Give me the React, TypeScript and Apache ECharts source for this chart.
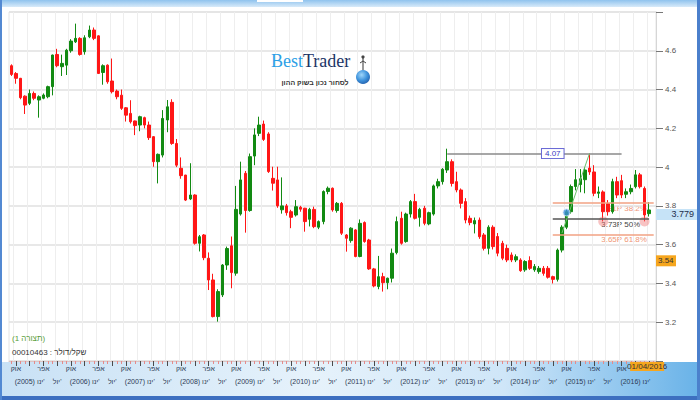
import React, { useEffect, useRef } from "react";
import * as echarts from "echarts";

// ---- time axis: monthly candles, Sep 2004 .. Apr 2016 (+1 empty slot) ----
const START_YEAR = 2004;
const START_MONTH = 9; // September
const SLOT_COUNT = 141;

// ---- monthly USD/ILS candles ----
const opens = [
  4.523, 4.483, 4.458, 4.366, 4.329, 4.38, 4.346, 4.355, 4.363, 4.415,
  4.581, 4.518, 4.526, 4.6, 4.646, 4.664, 4.595, 4.672, 4.707, 4.677,
  4.488, 4.526, 4.444, 4.392, 4.371, 4.306, 4.277, 4.238, 4.217, 4.255,
  4.217, 4.157, 4.028, 4.062, 4.243, 4.334, 4.122, 3.994, 3.959, 3.836,
  3.856, 3.607, 3.65, 3.53, 3.418, 3.229, 3.341, 3.495, 3.594, 3.453,
  3.758, 3.968, 3.776, 4.057, 4.174, 4.222, 4.171, 3.942, 3.934, 3.78,
  3.8, 3.77, 3.753, 3.793, 3.788, 3.731, 3.782, 3.69, 3.719, 3.874,
  3.891, 3.776, 3.813, 3.65, 3.621, 3.676, 3.539, 3.714, 3.624, 3.475,
  3.384, 3.435, 3.404, 3.427, 3.559, 3.736, 3.616, 3.758, 3.822, 3.741,
  3.788, 3.707, 3.758, 3.903, 3.925, 3.985, 4.028, 3.925, 3.882, 3.822,
  3.736, 3.707, 3.727, 3.65, 3.581, 3.69, 3.642, 3.607, 3.581, 3.547,
  3.521, 3.521, 3.47, 3.518, 3.47, 3.461, 3.478, 3.478, 3.435, 3.421,
  3.572, 3.69, 3.77, 3.9, 3.91, 3.935, 3.995, 3.975, 3.865, 3.872,
  3.812, 3.77, 3.925, 3.93, 3.86, 3.873, 3.899, 3.96, 3.89, 3.76,
];
const closes = [
  4.478, 4.458, 4.358, 4.32, 4.38, 4.355, 4.363, 4.372, 4.415, 4.578,
  4.523, 4.535, 4.603, 4.65, 4.664, 4.581, 4.667, 4.707, 4.664, 4.483,
  4.523, 4.44, 4.389, 4.363, 4.303, 4.268, 4.234, 4.214, 4.26, 4.217,
  4.152, 4.028, 4.066, 4.251, 4.311, 4.122, 4.01, 3.956, 3.83, 3.856,
  3.607, 3.641, 3.533, 3.418, 3.229, 3.358, 3.495, 3.58, 3.456, 3.782,
  3.934, 3.776, 4.054, 4.166, 4.217, 4.143, 3.977, 3.917, 3.8, 3.8,
  3.765, 3.741, 3.796, 3.783, 3.719, 3.782, 3.693, 3.719, 3.874, 3.891,
  3.779, 3.813, 3.659, 3.633, 3.685, 3.539, 3.71, 3.616, 3.475, 3.387,
  3.435, 3.404, 3.427, 3.556, 3.719, 3.607, 3.758, 3.822, 3.736, 3.782,
  3.71, 3.765, 3.903, 3.925, 3.989, 4.028, 3.916, 3.882, 3.813, 3.727,
  3.714, 3.724, 3.641, 3.581, 3.69, 3.59, 3.556, 3.53, 3.521, 3.521,
  3.538, 3.466, 3.513, 3.478, 3.487, 3.478, 3.452, 3.432, 3.421, 3.572,
  3.69, 3.77, 3.9, 3.935, 3.94, 3.985, 3.975, 3.865, 3.872, 3.77,
  3.77, 3.925, 3.856, 3.856, 3.873, 3.89, 3.96, 3.899, 3.753, 3.779,
];
const lows = [
  4.47, 4.43, 4.35, 4.274, 4.32, 4.345, 4.255, 4.35, 4.355, 4.37,
  4.515, 4.47, 4.475, 4.59, 4.64, 4.575, 4.58, 4.665, 4.655, 4.48,
  4.425, 4.43, 4.38, 4.35, 4.295, 4.235, 4.225, 4.165, 4.185, 4.2,
  4.14, 4.002, 3.916, 4.05, 4.18, 4.115, 4.0, 3.94, 3.825, 3.83,
  3.6, 3.565, 3.52, 3.366, 3.225, 3.203, 3.33, 3.47, 3.375, 3.44,
  3.75, 3.662, 3.77, 4.01, 4.16, 4.135, 3.97, 3.879, 3.79, 3.76,
  3.75, 3.685, 3.745, 3.77, 3.667, 3.694, 3.685, 3.68, 3.705, 3.86,
  3.77, 3.765, 3.65, 3.564, 3.61, 3.535, 3.535, 3.61, 3.47, 3.38,
  3.37, 3.358, 3.37, 3.405, 3.55, 3.6, 3.61, 3.74, 3.73, 3.693,
  3.7, 3.7, 3.75, 3.89, 3.91, 3.97, 3.9, 3.87, 3.787, 3.71,
  3.7, 3.658, 3.63, 3.57, 3.55, 3.575, 3.54, 3.52, 3.51, 3.51,
  3.51, 3.46, 3.46, 3.47, 3.46, 3.45, 3.44, 3.425, 3.4, 3.41,
  3.56, 3.68, 3.76, 3.88, 3.87, 3.865, 3.96, 3.85, 3.84, 3.72,
  3.75, 3.76, 3.84, 3.84, 3.84, 3.86, 3.89, 3.89, 3.72, 3.745,
];
const highs = [
  4.53, 4.49, 4.46, 4.37, 4.4, 4.39, 4.37, 4.38, 4.42, 4.58,
  4.61, 4.58, 4.61, 4.66, 4.74, 4.67, 4.68, 4.73, 4.72, 4.68,
  4.53, 4.53, 4.56, 4.4, 4.4, 4.31, 4.345, 4.24, 4.265, 4.26,
  4.235, 4.16, 4.07, 4.294, 4.346, 4.35, 4.145, 4.05, 3.96, 4.02,
  3.86, 3.65, 3.655, 3.56, 3.45, 3.37, 3.5, 3.59, 3.642, 3.903,
  4.028, 3.98, 4.07, 4.2, 4.26, 4.24, 4.18, 4.002, 4.002, 3.947,
  3.81, 3.78, 3.83, 3.8, 3.79, 3.79, 3.796, 3.725, 3.88, 3.9,
  3.895, 3.82, 3.82, 3.655, 3.69, 3.68, 3.73, 3.72, 3.63, 3.48,
  3.542, 3.455, 3.43, 3.58, 3.745, 3.77, 3.765, 3.83, 3.862, 3.79,
  3.8, 3.77, 3.91, 3.94, 3.995, 4.095, 4.04, 3.976, 3.89, 3.84,
  3.75, 3.74, 3.74, 3.66, 3.7, 3.7, 3.66, 3.62, 3.6, 3.56,
  3.55, 3.53, 3.52, 3.54, 3.5, 3.49, 3.49, 3.49, 3.44, 3.58,
  3.7, 3.78, 3.91, 3.99, 3.99, 4.0, 4.07, 4.01, 3.9, 3.88,
  3.83, 3.94, 3.95, 3.96, 3.89, 3.91, 3.985, 3.97, 3.9, 3.82,
];

// ---- drawing overlays (indices are candle slots) ----
const resistanceLevel = 4.07;
const resistanceFrom = 95;
const resistanceTo = 133;
const resistanceLabelAt = 118;
const fibStart = 118;
const fibLevels = [
  { value: 3.814, text: "3.81P 38.2%", color: "#f2a283", end: 140 },
  { value: 3.732, text: "3.73P 50%", color: "#555555", end: 139 },
  { value: 3.653, text: "3.65P 61.8%", color: "#f2a283", end: 140 },
];
const fibLabelAt = 129;
const trendFrom = [120, 3.66];
const trendTo = [126, 4.07];
const blueDots = [[121, 3.766]];
const pinkDots = [[129, 3.72], [138, 3.72]];
const lastPrice = 3.779;
const cursorPrice = 3.54;
const cursorDate = "01/04/2016";

const yMin = 3.0;
const yMax = 4.8;
const yStep = 0.2;

const categories: string[] = [];
for (let i = 0; i < SLOT_COUNT; i++) {
  const t = START_MONTH - 1 + i;
  const y = START_YEAR + Math.floor(t / 12);
  const m = (t % 12) + 1;
  categories.push(`${y}-${m < 10 ? "0" + m : m}`);
}
const monthOf = (i: number) => (START_MONTH - 1 + i) % 12; // 0 = Jan
const parseCat = (v: string) => {
  const [y, m] = v.split("-");
  return { y: Number(y), m: Number(m) - 1 };
};
const LAST = closes.length - 1;

const FONT = "Liberation Sans";

export default function App() {
  const ref = useRef<HTMLDivElement>(null);

  useEffect(() => {
    const chart = echarts.init(ref.current!, null, { renderer: "svg" });
    const ohlc = opens.map((o, i) => [o, closes[i], lows[i], highs[i]]);

    const option: any = {
      animation: false,
      backgroundColor: "#ffffff",
      grid: {
        left: 9,
        right: 44,
        top: 12,
        bottom: 39,
        show: true,
        borderColor: "#e4e4e4",
        borderWidth: 1,
        backgroundColor: "transparent",
      },
      xAxis: [
        {
          type: "category",
          data: categories,
          boundaryGap: true,
          position: "bottom",
          axisLine: { show: true, lineStyle: { color: "#dcc4c4" } },
          axisTick: {
            show: true,
            alignWithLabel: true,
            interval: 0,
            length: 3,
            lineStyle: { color: "#e48a8a" },
          },
          axisLabel: {
            // the last month's label sits under the cursor date box
            interval: (i: number) => i < LAST && (monthOf(i) === 9 || monthOf(i) === 3),
            formatter: (v: string) => {
              const { m } = parseCat(v);
              return m === 9 ? "אוק" : m === 3 ? "אפר" : "";
            },
            fontSize: 7,
            color: "#2d3b55",
            margin: 4,
            fontFamily: FONT,
          },
          splitLine: {
            show: true,
            interval: (i: number) => monthOf(i) % 3 === 0,
            lineStyle: { color: "#eeeeee", width: 1 },
          },
        },
        {
          type: "category",
          data: categories,
          boundaryGap: true,
          position: "bottom",
          offset: 0,
          axisLine: { show: false },
          axisTick: {
            show: true,
            alignWithLabel: true,
            interval: (i: number) => monthOf(i) % 3 === 0,
            length: 5,
            lineStyle: { color: "#4a4a4a" },
          },
          axisLabel: {
            interval: (i: number) => monthOf(i) === 0 || monthOf(i) === 6,
            formatter: (v: string) => {
              const { y, m } = parseCat(v);
              return m === 0 ? `(${y}) ינו'` : m === 6 ? "יול'" : "";
            },
            fontSize: 7,
            color: "#2d3b55",
            margin: 17,
            fontFamily: FONT,
          },
          splitLine: { show: false },
        },
      ],
      yAxis: {
        type: "value",
        position: "right",
        min: yMin,
        max: yMax,
        interval: yStep,
        axisLine: { show: true, lineStyle: { color: "#d6d6d6" } },
        axisTick: { show: true, length: 7, lineStyle: { color: "#777" } },
        axisLabel: {
          margin: 9,
          fontSize: 8,
          color: "#555",
          fontFamily: FONT,
          formatter: (v: number) =>
            v <= yMin + 0.001 || v >= yMax - 0.001 ? "" : String(Math.round(v * 10) / 10),
        },
        splitLine: { show: true, lineStyle: { color: "#e0e0e0", width: 1.5 } },
      },
      series: [
        {
          type: "candlestick",
          xAxisIndex: 0,
          yAxisIndex: 0,
          data: ohlc,
          barWidth: 3,
          itemStyle: {
            color: "#128a12",
            color0: "#ff1616",
            borderColor: "#128a12",
            borderColor0: "#ff1616",
            borderWidth: 1,
          },
          markLine: {
            silent: true,
            symbol: ["none", "none"],
            label: { show: false },
            data: [
              [
                {
                  coord: [categories[resistanceFrom], resistanceLevel],
                  lineStyle: { color: "#8a8a8a", width: 1.5, type: "solid" },
                },
                { coord: [categories[resistanceTo], resistanceLevel] },
              ],
              ...fibLevels.map((f) => [
                {
                  coord: [categories[fibStart], f.value],
                  lineStyle: { color: f.color, width: 1.5, type: "solid" },
                },
                { coord: [categories[f.end], f.value] },
              ]),
              [
                {
                  coord: [categories[trendFrom[0]], trendFrom[1]],
                  lineStyle: { color: "#6cbf6c", width: 1, type: "solid" },
                },
                { coord: [categories[trendTo[0]], trendTo[1]] },
              ],
            ],
          },
        },
        {
          type: "scatter",
          xAxisIndex: 0,
          yAxisIndex: 0,
          data: pinkDots.map((d) => [categories[d[0]], d[1]]),
          symbolSize: 10,
          itemStyle: { color: "rgba(238,118,118,0.55)" },
          z: 4,
        },
        {
          type: "scatter",
          xAxisIndex: 0,
          yAxisIndex: 0,
          data: blueDots.map((d) => [categories[d[0]], d[1]]),
          symbolSize: 7,
          itemStyle: { color: "#3d8edb", borderColor: "#cfe4f8", borderWidth: 1 },
          z: 5,
        },
      ],
    };

    chart.setOption(option);

    const toPx = (i: number, v: number) =>
      chart.convertToPixel({ seriesIndex: 0 }, [i, v]) as number[];
    const yPx = (v: number) => chart.convertToPixel({ yAxisIndex: 0 }, v) as number;

    const resPt = toPx(resistanceLabelAt, resistanceLevel);
    const fibX = toPx(fibLabelAt, fibLevels[0].value)[0] - 2;
    const lastY = yPx(lastPrice);
    const curY = yPx(cursorPrice);
    const bottomY = yPx(yMin);
    const dateX = toPx(LAST, lastPrice)[0];

    const graphic: any[] = [
      // frame
      {
        type: "rect",
        z: -10,
        shape: { x: 0, y: 0, width: 700, height: 7 },
        style: {
          fill: new echarts.graphic.LinearGradient(0, 0, 0, 1, [
            { offset: 0, color: "#8fc3ee" },
            { offset: 1, color: "#d8eaf9" },
          ]),
        },
      },
      { type: "rect", z: -9, shape: { x: 257, y: 0, width: 46, height: 2 }, style: { fill: "#ffffff" } },
      {
        type: "rect",
        z: -10,
        shape: { x: 0, y: bottomY + 1, width: 700, height: 396 - bottomY - 1 },
        style: {
          fill: new echarts.graphic.LinearGradient(0, 0, 1, 0, [
            { offset: 0, color: "#c8e1f5" },
            { offset: 0.45, color: "#e6f2fb" },
            { offset: 0.72, color: "#cfe6f8" },
            { offset: 1, color: "#68b2e8" },
          ]),
        },
      },
      { type: "rect", z: -9, shape: { x: 0, y: 396, width: 700, height: 4 }, style: { fill: "#3d6fc0" } },
      { type: "rect", z: -9, shape: { x: 0, y: 0, width: 2, height: 400 }, style: { fill: "#5389d2" } },
      { type: "rect", z: -9, shape: { x: 697, y: 0, width: 3, height: 400 }, style: { fill: "#4b80cc" } },

      // logo
      {
        type: "text",
        x: 271,
        y: 61,
        style: {
          text: "{a|Best}{b|Trader}",
          verticalAlign: "middle",
          rich: {
            a: { fill: "#2c9fe6", fontSize: 18, fontFamily: "Liberation Serif" },
            b: { fill: "#1b3566", fontSize: 18, fontFamily: "Liberation Serif" },
          },
        },
      },
      {
        type: "text",
        x: 315,
        y: 82,
        style: {
          text: "לסחור נכון בשוק ההון",
          align: "center",
          verticalAlign: "middle",
          fontSize: 7,
          fontWeight: "bold",
          fontFamily: FONT,
          fill: "#333",
        },
      },
      { type: "rect", shape: { x: 362.5, y: 56, width: 1, height: 14 }, style: { fill: "#333" } },
      { type: "circle", shape: { cx: 363, cy: 57, r: 1.6 }, style: { fill: "#444" } },
      { type: "polyline", shape: { points: [[360, 63], [363, 61], [366, 63]] }, style: { stroke: "#444", lineWidth: 1, fill: "none" } },
      {
        type: "circle",
        shape: { cx: 363, cy: 77, r: 7 },
        style: {
          fill: new echarts.graphic.RadialGradient(0.4, 0.35, 0.8, [
            { offset: 0, color: "#9fd6fa" },
            { offset: 0.5, color: "#3f93dc" },
            { offset: 1, color: "#1a4f9c" },
          ]),
        },
      },

      // bottom-left captions
      {
        type: "text",
        x: 12,
        y: 338,
        style: { text: "(תצורה 1)", fontSize: 8, fill: "#5a9e3a", fontFamily: FONT, verticalAlign: "middle" },
      },
      {
        type: "text",
        x: 12,
        y: 352,
        style: { text: "שקל/דולר : 00010463", fontSize: 8, fill: "#333", fontFamily: FONT, verticalAlign: "middle" },
      },

      // resistance label
      {
        type: "text",
        x: resPt[0],
        y: resPt[1],
        z: 10,
        style: {
          text: resistanceLevel.toFixed(2),
          align: "center",
          verticalAlign: "middle",
          fontSize: 8,
          fontFamily: FONT,
          fill: "#3a3ac4",
          backgroundColor: "#ffffff",
          borderColor: "#6b6bd6",
          borderWidth: 1,
          padding: [1, 3, 0, 3],
        },
      },

      // fib labels (behind candles)
      ...fibLevels.map((f) => ({
        type: "text",
        x: fibX,
        y: yPx(f.value) + 1,
        z: -1,
        style: {
          text: f.text,
          align: "left",
          verticalAlign: "top",
          fontSize: 8,
          fontFamily: FONT,
          fill: f.color === "#555555" ? "#444" : "#ef9676",
        },
      })),

      // last price box
      { type: "rect", z: 10, shape: { x: 656, y: lastY - 1, width: 41, height: 11 }, style: { fill: "#c6e3f7" } },
      {
        type: "text",
        z: 11,
        x: 694,
        y: lastY + 4.5,
        style: { text: String(lastPrice), align: "right", verticalAlign: "middle", fontSize: 9, fontFamily: FONT, fill: "#1d2d4a" },
      },
      // cursor price box
      { type: "rect", z: 10, shape: { x: 656, y: curY - 1, width: 20, height: 11 }, style: { fill: "#f6a61e" } },
      {
        type: "text",
        z: 11,
        x: 658,
        y: curY + 4.5,
        style: { text: cursorPrice.toFixed(2), align: "left", verticalAlign: "middle", fontSize: 8, fontFamily: FONT, fill: "#333" },
      },
      // cursor date box
      { type: "rect", z: 10, shape: { x: dateX - 19, y: bottomY + 1, width: 34, height: 9 }, style: { fill: "#f6a61e" } },
      {
        type: "text",
        z: 11,
        x: dateX - 2,
        y: bottomY + 5.5,
        style: { text: cursorDate, align: "center", verticalAlign: "middle", fontSize: 8, fontFamily: FONT, fill: "#333" },
      },
    ];

    chart.setOption({ graphic });

    return () => chart.dispose();
  }, []);

  return (
    <div
      ref={ref}
      style={{ position: "fixed", left: 0, top: 0, width: 700, height: 400, background: "#fff" }}
    />
  );
}
